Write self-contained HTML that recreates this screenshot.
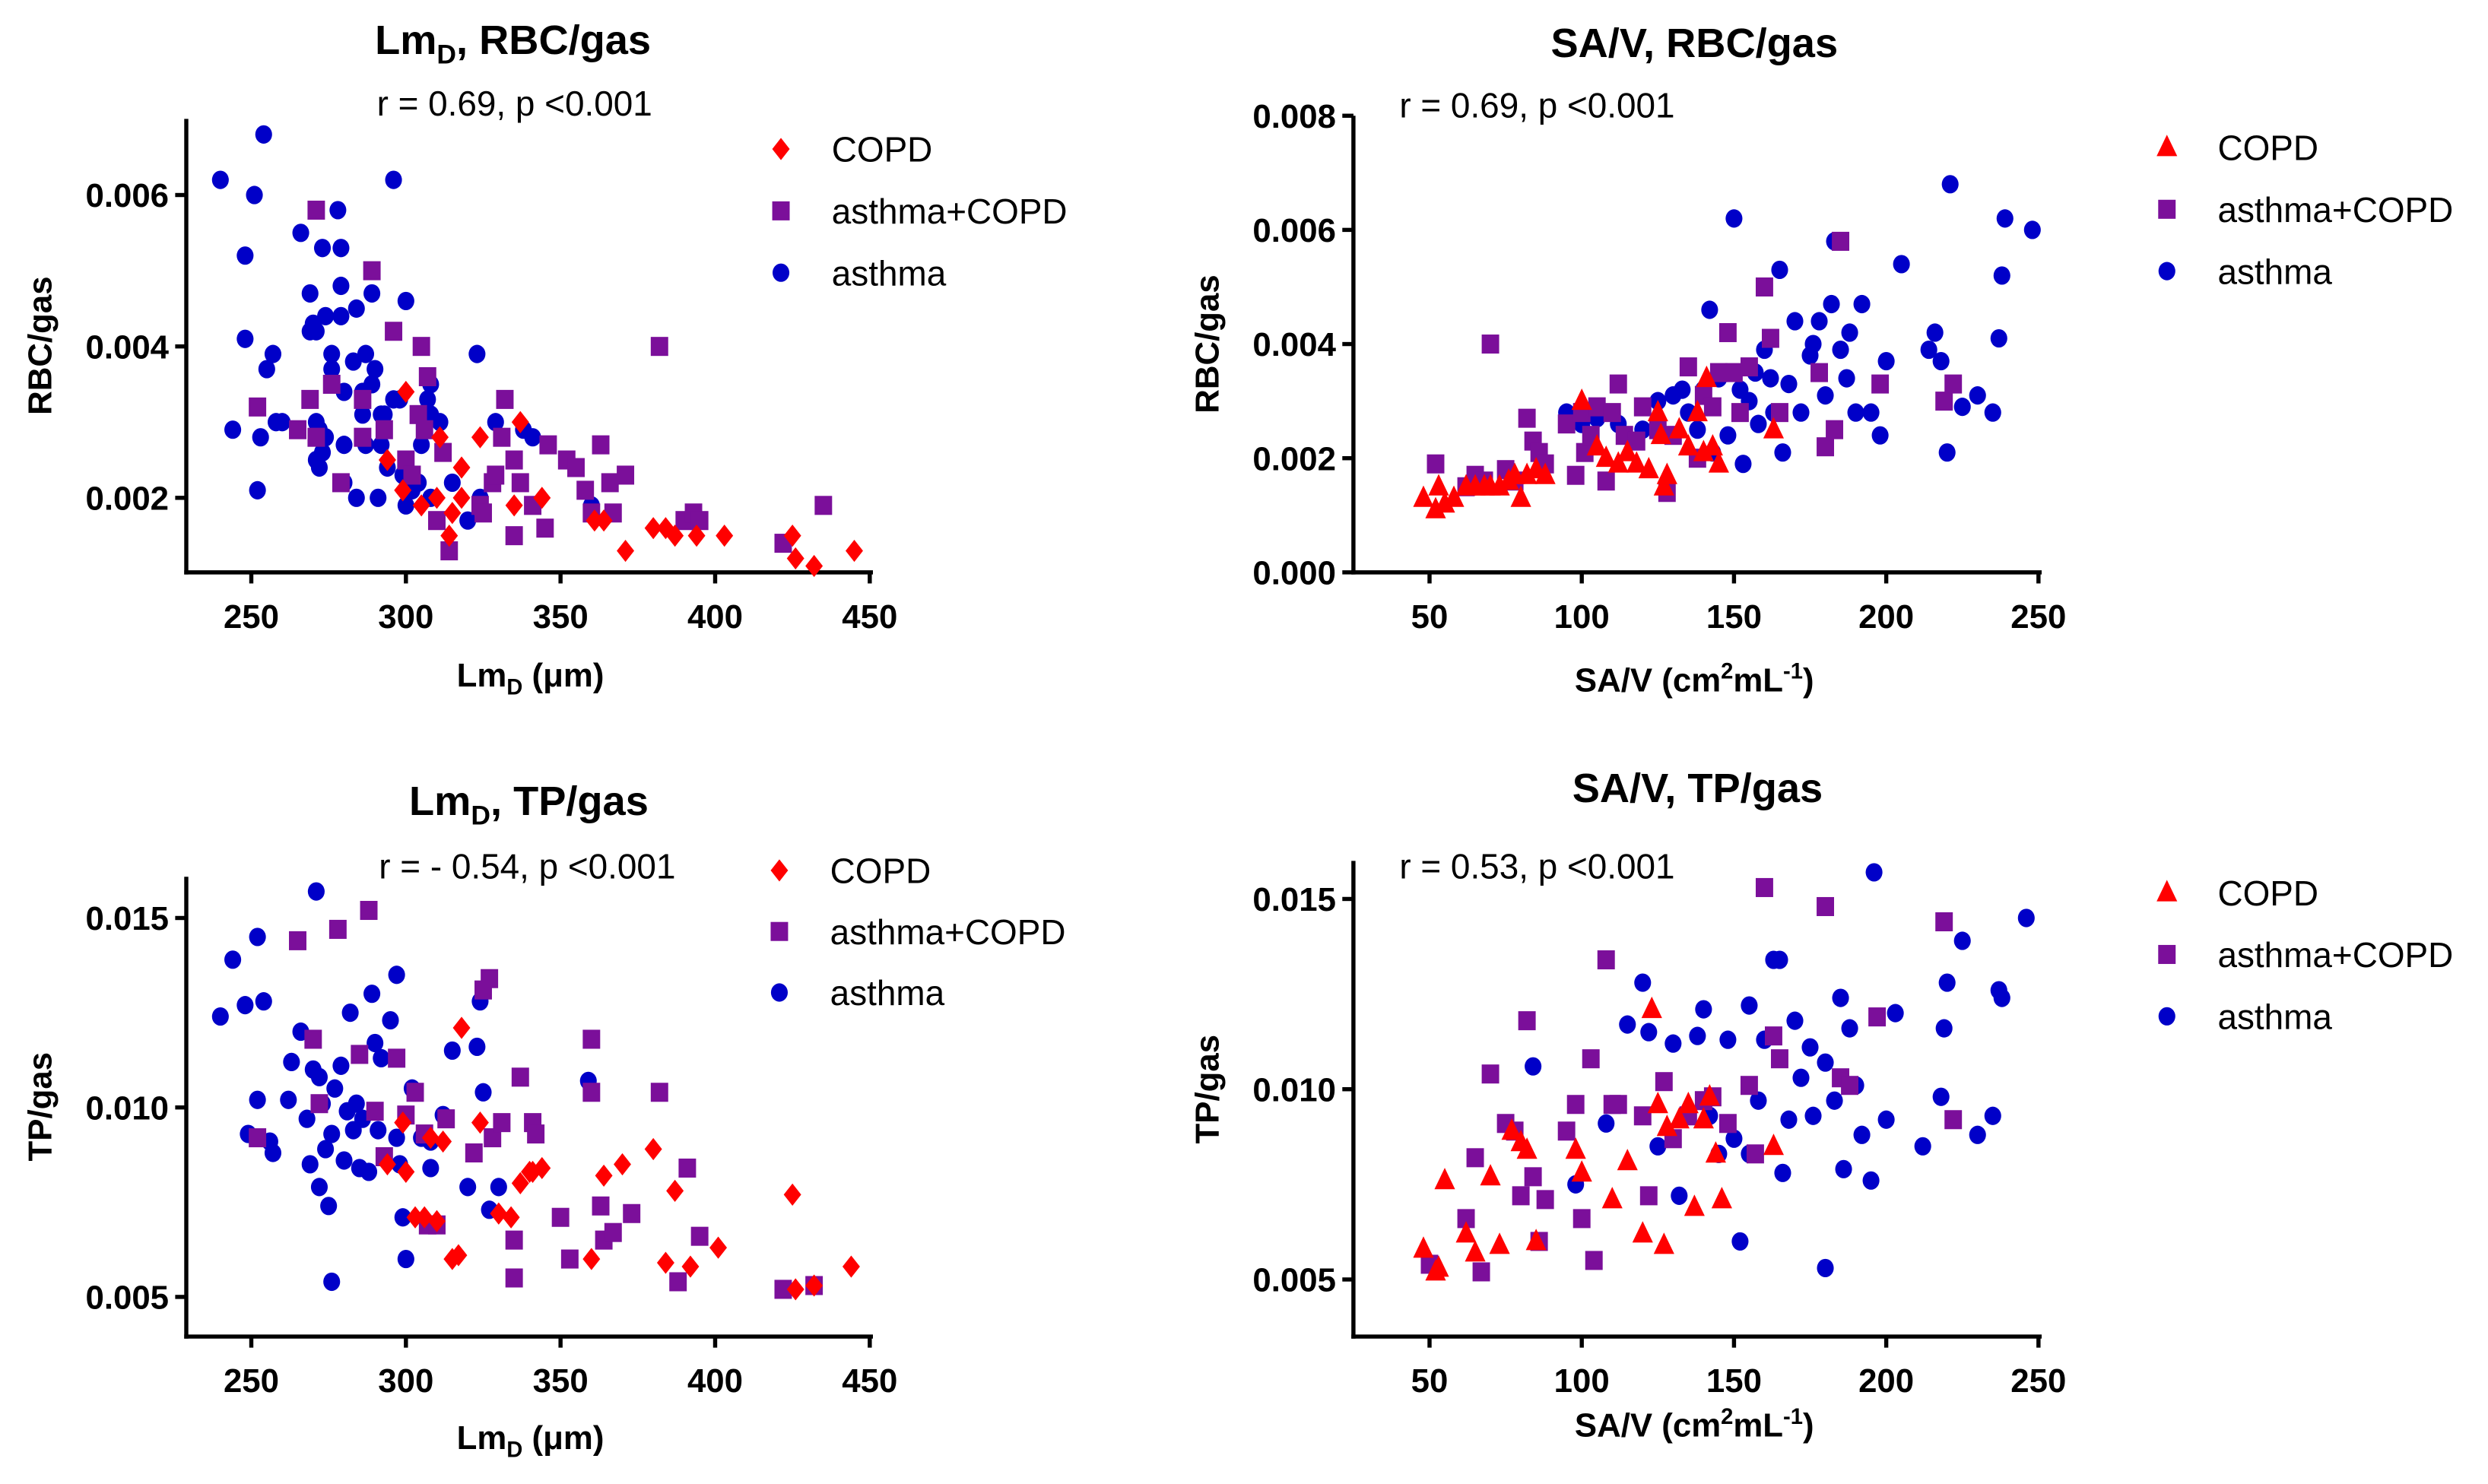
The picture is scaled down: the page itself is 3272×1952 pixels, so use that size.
<!DOCTYPE html>
<html><head><meta charset="utf-8"><style>
html,body{margin:0;padding:0;background:#fff;}
svg{display:block;font-family:"Liberation Sans",Arial,sans-serif;}
</style></head><body>
<svg id="fig" width="3272" height="1952" viewBox="0 0 1568 936" xmlns="http://www.w3.org/2000/svg"></svg>
<script>
// ---------- DATA ----------
const p1_copd_x=[294,299,300,305,310,311,315,314,318,318,324,335,337,344,361,364,371,380,384,387,394,403,425,426,432,445];
const p1_copd_y=[.0025,.0021,.0034,.0019,.002,.0028,.0018,.0015,.0024,.002,.0028,.0019,.003,.002,.0017,.0017,.0013,.0016,.0016,.0015,.0015,.0015,.0015,.0012,.0011,.0013];
const p1_ac_x=[252,265,269,271,271,276,279,286,286,289,293,296,300,302,304,305,306,307,310,312,314,324,325,328,329,331,332,335,335,337,341,345,346,352,355,358,360,363,366,367,371,382,390,393,395,422,435];
const p1_ac_y=[.0032,.0029,.0033,.0028,.0058,.0035,.0022,.0033,.0028,.005,.0029,.0042,.0025,.0023,.0031,.004,.0029,.0036,.0017,.0026,.0013,.0019,.0018,.0022,.0023,.0028,.0033,.0025,.0015,.0022,.0019,.0016,.0027,.0025,.0024,.0021,.0018,.0027,.0022,.0018,.0023,.004,.0017,.0018,.0017,.0014,.0019];
const p1_a_x=[240,244,248,248,251,252,253,254,255,257,258,260,266,269,269,270,271,271,271,272,272,273,273,274,274,276,276,278,279,279,279,280,280,280,283,284,284,286,286,287,287,289,289,290,291,292,292,293,294,296,296,298,299,300,300,302,304,305,307,308,308,308,311,315,320,323,324,329,338,341,360];
const p1_a_y=[.0062,.0029,.0052,.0041,.006,.0021,.0028,.0068,.0037,.0039,.003,.003,.0055,.0047,.0042,.0043,.0042,.003,.0025,.0024,.0029,.0053,.0026,.0028,.0044,.0039,.0037,.0058,.0044,.0048,.0053,.0034,.0027,.0022,.0038,.0045,.002,.0034,.0031,.0039,.0027,.0035,.0047,.0037,.002,.0031,.0027,.0031,.0024,.0062,.0033,.0033,.0023,.0046,.0019,.0021,.0022,.0027,.0033,.0031,.0035,.002,.003,.0022,.0017,.0039,.002,.003,.0029,.0028,.0019];

const p2_copd_x=[48,52,53,55,58,62,65,68,70,73,76,78,80,82,85,88,100,105,108,112,115,118,122,125,126,127,128,132,135,138,140,141,143,145,163];
const p2_copd_y=[.0013,.0011,.0015,.0012,.0013,.0015,.0015,.0015,.0015,.0015,.0016,.0017,.0013,.0017,.0018,.0017,.003,.0022,.002,.0019,.0021,.0019,.0018,.0028,.0024,.0015,.0017,.0025,.0022,.0028,.0021,.0034,.0022,.0019,.0025];
const p2_ac_x=[52,62,65,68,70,75,78,82,84,86,88,95,98,100,101,103,105,108,110,112,114,118,120,125,128,130,135,138,140,143,145,148,150,152,155,160,162,165,178,180,183,185,198,219,222];
const p2_ac_y=[.0019,.0015,.0017,.0016,.004,.0018,.0016,.0027,.0023,.0021,.0019,.0026,.0017,.0028,.0021,.0024,.0029,.0016,.0028,.0033,.0024,.0023,.0029,.0025,.0014,.0024,.0036,.002,.0031,.0029,.0035,.0042,.0035,.0028,.0036,.005,.0041,.0028,.0035,.0022,.0025,.0058,.0033,.003,.0033];
const p2_a_x=[95,100,105,112,120,125,130,133,135,138,140,142,143,145,148,150,152,153,155,157,158,160,162,163,165,166,168,170,172,175,176,178,180,182,183,185,187,188,190,192,195,198,200,205,214,216,218,220,221,225,230,235,237,238,239,248];
const p2_a_y=[.0028,.0026,.0027,.0026,.0025,.003,.0031,.0032,.0028,.0025,.0032,.0046,.0021,.0034,.0024,.0062,.0032,.0019,.003,.0035,.0026,.0039,.0034,.0028,.0053,.0021,.0033,.0044,.0028,.0038,.004,.0044,.0031,.0047,.0058,.0039,.0034,.0042,.0028,.0047,.0028,.0024,.0037,.0054,.0039,.0042,.0037,.0021,.0068,.0029,.0031,.0028,.0041,.0052,.0062,.006];

const p3_copd_x=[294,299,300,303,306,308,310,312,315,317,318,324,330,334,337,340,341,344,360,364,370,380,384,387,392,401,425,426,432,444];
const p3_copd_y=[.0085,.0096,.0083,.0071,.0071,.0092,.007,.0091,.006,.0061,.0121,.0096,.0072,.0071,.008,.0083,.0083,.0084,.006,.0082,.0085,.0089,.0059,.0078,.0058,.0063,.0077,.0052,.0053,.0058];
const p3_ac_x=[252,265,270,272,278,285,288,290,293,297,300,303,306,307,310,313,322,325,327,328,331,335,335,337,341,342,350,353,360,360,363,364,367,373,382,388,391,395,422,432];
const p3_ac_y=[.0092,.0144,.0118,.0101,.0147,.0114,.0152,.0099,.0087,.0113,.0098,.0104,.0093,.0069,.0069,.0097,.0088,.0131,.0134,.0092,.0096,.0055,.0065,.0108,.0096,.0093,.0071,.006,.0118,.0104,.0074,.0065,.0067,.0072,.0104,.0054,.0084,.0066,.0052,.0053];
const p3_a_x=[240,244,248,249,252,252,254,256,257,262,263,266,268,269,270,271,272,272,273,274,275,276,276,277,279,280,281,282,283,284,285,286,288,289,290,291,292,295,297,297,298,299,300,302,305,306,308,308,312,315,320,323,324,325,327,330,359];
const p3_a_y=[.0124,.0139,.0127,.0093,.0145,.0102,.0128,.0091,.0088,.0102,.0112,.012,.0097,.0085,.011,.0157,.0079,.0108,.0101,.0089,.0074,.0054,.0093,.0105,.0111,.0086,.0099,.0125,.0094,.0101,.0084,.0097,.0083,.013,.0117,.0094,.0113,.0123,.0135,.0092,.0085,.0071,.006,.0105,.0092,.0093,.0091,.0084,.0098,.0115,.0079,.0116,.0128,.0104,.0073,.0079,.0107];

const p4_copd_x=[48,52,53,55,62,65,70,73,77,80,82,85,98,100,110,115,120,123,125,127,128,132,135,137,140,142,144,146,163];
const p4_copd_y=[.0058,.0052,.0053,.0076,.0062,.0057,.0077,.0059,.0089,.0086,.0084,.006,.0084,.0078,.0071,.0081,.0062,.0121,.0096,.0059,.009,.0092,.0096,.0069,.0092,.0098,.0083,.0071,.0085];
const p4_ac_x=[50,62,65,67,70,75,78,80,82,84,86,88,95,98,100,103,104,108,110,112,120,122,127,130,135,140,143,148,155,157,160,163,165,180,185,188,197,219,222];
const p4_ac_y=[.0054,.0066,.0082,.0052,.0104,.0091,.0089,.0072,.0118,.0077,.006,.0071,.0089,.0096,.0066,.0108,.0055,.0134,.0096,.0096,.0093,.0072,.0102,.0087,.0093,.0097,.0098,.0091,.0101,.0083,.0153,.0114,.0108,.0148,.0103,.0101,.0119,.0144,.0092];
const p4_a_x=[84,98,108,115,120,122,125,130,132,138,140,142,145,148,150,152,155,155,158,160,163,165,166,168,170,172,175,176,180,180,183,185,186,188,190,192,195,196,200,203,212,218,219,220,225,230,235,237,238,246];
const p4_a_y=[.0106,.0075,.0091,.0117,.0128,.0115,.0085,.0112,.0072,.0114,.0121,.0093,.0083,.0113,.0087,.006,.0083,.0122,.0097,.0113,.0134,.0134,.0078,.0092,.0118,.0103,.0111,.0093,.0053,.0107,.0097,.0124,.0079,.0116,.0101,.0088,.0076,.0157,.0092,.012,.0085,.0098,.0116,.0128,.0139,.0088,.0093,.0126,.0124,.0145];

const lmTicks=[250,300,350,400,450];
const savTicks=[50,100,150,200,250];
const p1YTicks=[0.002,0.004,0.006];
const p2YTicks=[0.000,0.002,0.004,0.006,0.008];
const p3YTicks=[0.005,0.010,0.015];
const p4YTicks=[0.005,0.010,0.015];

// ---------- DRAWING ----------
const NS='http://www.w3.org/2000/svg';
const svg=document.getElementById('fig');
function mk(tag,attrs,parent){const e=document.createElementNS(NS,tag);for(const k in attrs)e.setAttribute(k,attrs[k]);(parent||svg).appendChild(e);return e;}
function lin(d0,d1,p0,p1){return v=>p0+(v-d0)/(d1-d0)*(p1-p0);}

const RED='#ff0000',PUR='#7b0f9a',BLU='#0000c8';

function marker(g,shape,x,y,color){
  let e;
  if(shape==='diamond'){e=mk('polygon',{points:`${x},${y-7} ${x+5.5},${y} ${x},${y+7} ${x-5.5},${y}`,fill:color},g);}
  else if(shape==='square'){e=mk('rect',{x:x-5.5,y:y-6,width:11,height:12,fill:color},g);}
  else if(shape==='tri'){e=mk('polygon',{points:`${x},${y-8} ${x+6.5},${y+5.5} ${x-6.5},${y+5.5}`,fill:color},g);}
  else {e=mk('ellipse',{cx:x,cy:y,rx:5.3,ry:5.8,fill:color},g);}
  return e;
}

function panel(cfg){
  const g=mk('g',{});
  
  
  const sx=lin(cfg.xd[0],cfg.xd[1],cfg.xp[0],cfg.xp[1]);
  const sy=lin(cfg.yd[0],cfg.yd[1],cfg.yp[0],cfg.yp[1]);
  const ya=mk('line',{x1:cfg.ax,y1:cfg.atop,x2:cfg.ax,y2:cfg.ay+1.3,stroke:'#000','stroke-width':2.6},g);
  
  
  const xa=mk('line',{x1:cfg.ax-1.3,y1:cfg.ay,x2:cfg.aright,y2:cfg.ay,stroke:'#000','stroke-width':2.6},g);
  
  
  cfg.xt.forEach(v=>{const x=sx(v);
    mk('line',{x1:x,y1:cfg.ay,x2:x,y2:cfg.ay+7,stroke:'#000','stroke-width':2.6},g);
    const t=mk('text',{x:x,y:cfg.ay+35,'text-anchor':'middle','font-size':21,'font-weight':'bold'},g);
    t.textContent=v;
    
    
  });
  cfg.yt.forEach(v=>{const y=sy(v);
    mk('line',{x1:cfg.ax-7,y1:y,x2:cfg.ax,y2:y,stroke:'#000','stroke-width':2.6},g);
    const t=mk('text',{x:cfg.ax-11,y:y+7.5,'text-anchor':'end','font-size':21,'font-weight':'bold'},g);
    t.textContent=v.toFixed(3);
    
    
  });
  const series=[['asthma',cfg.a[0],cfg.a[1],'circle',BLU],['asthma-copd',cfg.ac[0],cfg.ac[1],'square',PUR],['copd',cfg.c[0],cfg.c[1],cfg.cshape,RED]];
  series.forEach(s=>{
    const sg=mk('g',{},g);
    
    
    s[1].forEach((xv,i)=>{
      const m=marker(sg,s[3],sx(xv),sy(s[2][i]),s[4]);
      
      
    });
  });
  const lg=mk('g',{},g);
  
  
  const ent=[['COPD',cfg.cshape,RED],['asthma+COPD','square',PUR],['asthma','circle',BLU]];
  ent.forEach((e,i)=>{
    const y=cfg.leg[1]+i*cfg.leg[3];
    const eg=mk('g',{},lg);
    
    
    marker(eg,e[1],cfg.leg[0],y,e[2]);
    const t=mk('text',{x:cfg.leg[2],y:y+8,'font-size':22},eg);
    t.textContent=e[0];
  });
}

panel({name:'panel-lmd-rbc',xd:[250,450],xp:[158,548],yd:[0.002,0.006],yp:[314,123],ax:117,atop:75,ay:361,aright:550,xt:lmTicks,yt:p1YTicks,
  c:[p1_copd_x,p1_copd_y],ac:[p1_ac_x,p1_ac_y],a:[p1_a_x,p1_a_y],cshape:'diamond',leg:[492,94,524,39]});
panel({name:'panel-sav-rbc',xd:[50,250],xp:[901,1285],yd:[0,0.008],yp:[361,73],ax:853,atop:73,ay:361,aright:1287,xt:savTicks,yt:p2YTicks,
  c:[p2_copd_x,p2_copd_y],ac:[p2_ac_x,p2_ac_y],a:[p2_a_x,p2_a_y],cshape:'tri',leg:[1366,93,1398,39]});
panel({name:'panel-lmd-tp',xd:[250,450],xp:[158,548],yd:[0.005,0.015],yp:[818,579],ax:117,atop:553,ay:843,aright:550,xt:lmTicks,yt:p3YTicks,
  c:[p3_copd_x,p3_copd_y],ac:[p3_ac_x,p3_ac_y],a:[p3_a_x,p3_a_y],cshape:'diamond',leg:[491,549,523,38.5]});
panel({name:'panel-sav-tp',xd:[50,250],xp:[901,1285],yd:[0.005,0.015],yp:[807,567],ax:853,atop:543,ay:843,aright:1287,xt:savTicks,yt:p4YTicks,
  c:[p4_copd_x,p4_copd_y],ac:[p4_ac_x,p4_ac_y],a:[p4_a_x,p4_a_y],cshape:'tri',leg:[1366,563,1398,39]});
</script>
<svg style="position:absolute;left:0;top:0" width="3272" height="1952" viewBox="0 0 1568 936" xmlns="http://www.w3.org/2000/svg" font-family="Liberation Sans, Arial, sans-serif">
  <text x="323" y="34" text-anchor="middle" font-size="26" font-weight="bold">Lm<tspan font-size="17" dy="6">D</tspan><tspan dy="-6">, RBC/gas</tspan></text>
  <text x="324" y="73" text-anchor="middle" font-size="22">r = 0.69, p &lt;0.001</text>
  <text x="334" y="433" text-anchor="middle" font-size="21" font-weight="bold">Lm<tspan font-size="14" dy="5">D</tspan><tspan dy="-5"> (μm)</tspan></text>
  <text transform="translate(32,218) rotate(-90)" text-anchor="middle" font-size="21" font-weight="bold">RBC/gas</text>

  <text x="1068" y="36" text-anchor="middle" font-size="26" font-weight="bold">SA/V, RBC/gas</text>
  <text x="882" y="74" font-size="22">r = 0.69, p &lt;0.001</text>
  <text x="1068" y="436" text-anchor="middle" font-size="21" font-weight="bold">SA/V (cm<tspan font-size="14" dy="-8">2</tspan><tspan dy="8">mL</tspan><tspan font-size="14" dy="-8">-1</tspan><tspan dy="8">)</tspan></text>
  <text transform="translate(768,217) rotate(-90)" text-anchor="middle" font-size="21" font-weight="bold">RBC/gas</text>

  <text x="333" y="514" text-anchor="middle" font-size="26" font-weight="bold">Lm<tspan font-size="17" dy="6">D</tspan><tspan dy="-6">, TP/gas</tspan></text>
  <text x="332" y="554" text-anchor="middle" font-size="22">r = - 0.54, p &lt;0.001</text>
  <text x="334" y="914" text-anchor="middle" font-size="21" font-weight="bold">Lm<tspan font-size="14" dy="5">D</tspan><tspan dy="-5"> (μm)</tspan></text>
  <text transform="translate(32,698) rotate(-90)" text-anchor="middle" font-size="21" font-weight="bold">TP/gas</text>

  <text x="1070" y="506" text-anchor="middle" font-size="26" font-weight="bold">SA/V, TP/gas</text>
  <text x="882" y="554" font-size="22">r = 0.53, p &lt;0.001</text>
  <text x="1068" y="906" text-anchor="middle" font-size="21" font-weight="bold">SA/V (cm<tspan font-size="14" dy="-8">2</tspan><tspan dy="8">mL</tspan><tspan font-size="14" dy="-8">-1</tspan><tspan dy="8">)</tspan></text>
  <text transform="translate(768,687) rotate(-90)" text-anchor="middle" font-size="21" font-weight="bold">TP/gas</text>
</svg>
</body></html>
